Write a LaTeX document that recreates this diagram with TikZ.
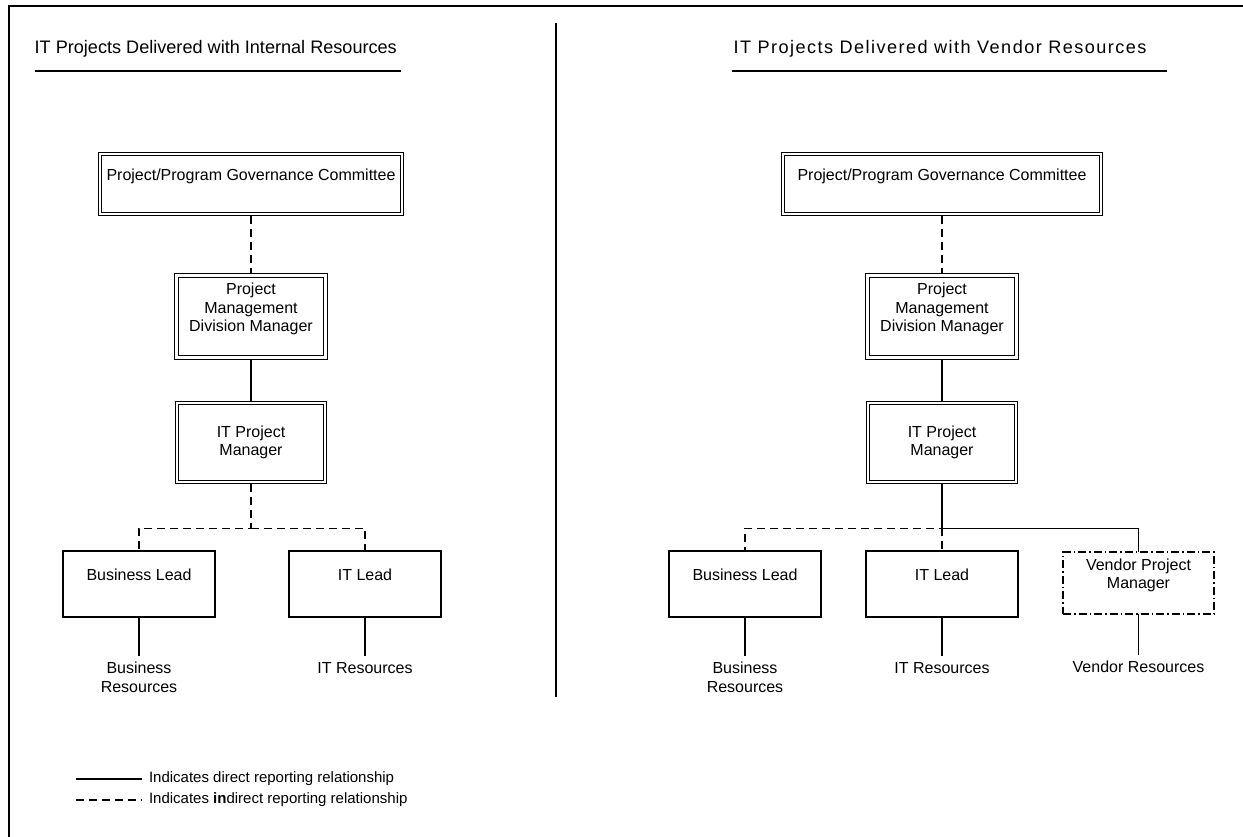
\documentclass[tikz,border=0pt]{standalone}
\usepackage{fontspec}
\setmainfont{Liberation Sans}
\newfontfamily\widetitle[LetterSpace=8]{Liberation Sans}
\usetikzlibrary{positioning}

\begin{document}
\begin{tikzpicture}[
    x=1pt, y=-1pt,
    every node/.style={font=\fontsize{16}{18.5}\selectfont},
    dbox/.style={draw, double, line width=1.2pt, double distance=2.4pt, outer sep=2.4pt, inner sep=0pt, align=center},
    box/.style={draw, line width=1.2pt, inner sep=0pt, outer sep=0pt, align=center, minimum width=152pt, minimum height=66pt},
    vbox/.style={box, dash pattern=on 8pt off 3pt on 1.5pt off 3pt, minimum width=151pt, minimum height=62pt},
    res/.style={align=center, inner sep=0pt, outer sep=6pt},
    direct/.style={line width=1.2pt},
    indirect/.style={line width=1.2pt, dash pattern=on 8pt off 5pt},
    title/.style={font=\fontsize{18.1}{20}\selectfont, anchor=base west, inner sep=0pt},
    keytext/.style={font=\fontsize{15}{17}\selectfont, anchor=west, inner sep=0pt, outer sep=7pt}
  ]
    \useasboundingbox (0,0) rectangle (1243,837);
    \draw[line width=2.5pt] (9,837) |- (1243,6);
    \draw[direct] (556,23) -- (556,697);

    \node[title] (titleL) at (34.5,53.5) {IT Projects Delivered with Internal Resources};
    \node[title] (titleR) at (733.5,53.5) {\widetitle IT Projects Delivered with Vendor Resources};
    \draw[direct] (35,71) -- (401,71);
    \draw[direct] (732,71) -- (1167,71);

    \node[dbox, minimum width=302pt, minimum height=60pt] (govL) at (251,184) {Project/Program Governance Committee\\\mbox{}};
    \node[dbox, minimum width=149pt, minimum height=82pt, below=56.7pt of govL] (pmdL) {Project\\Management\\Division Manager\\\mbox{}};
    \node[dbox, minimum width=148pt, minimum height=79pt, below=40.7pt of pmdL] (itpmL) {IT Project\\Manager};
    \coordinate[below=44pt of itpmL] (forkL);
    \node[box, below=66.6pt of itpmL, xshift=-112pt] (busL) {Business Lead\\\mbox{}};
    \node[box, below=66.6pt of itpmL, xshift=114pt] (itL) {IT Lead\\\mbox{}};
    \node[res, below=39pt of busL] (busResL) {Business\\Resources};
    \node[res, below=39pt of itL] (itResL) {IT Resources};

    \draw[indirect] (govL) -- (pmdL);
    \draw[direct] (pmdL) -- (itpmL);
    \draw[indirect] (itpmL) -- (forkL) -| (busL.north);
    \draw[indirect] (forkL) -| (itL.north);
    \draw[direct] (busL) -- (busResL);
    \draw[direct] (itL) -- (itResL);

    \node[dbox, minimum width=318pt, minimum height=60pt] (govR) at (942,184) {Project/Program Governance Committee\\\mbox{}};
    \node[dbox, minimum width=149pt, minimum height=82pt, below=56.7pt of govR] (pmdR) {Project\\Management\\Division Manager\\\mbox{}};
    \node[dbox, minimum width=148pt, minimum height=79pt, below=40.7pt of pmdR] (itpmR) {IT Project\\Manager};
    \coordinate[below=44pt of itpmR] (forkR);
    \node[box, below=66.6pt of itpmR, xshift=-197pt] (busR) {Business Lead\\\mbox{}};
    \node[box, below=66.6pt of itpmR] (itR) {IT Lead\\\mbox{}};
    \node[vbox, below=67.6pt of itpmR, xshift=196.5pt] (vendR) {Vendor Project\\Manager\\\mbox{}};
    \node[res, below=39pt of busR] (busResR) {Business\\Resources};
    \node[res, below=39pt of itR] (itResR) {IT Resources};
    \node[res, below=41pt of vendR] (vendResR) {Vendor Resources};

    \draw[indirect] (govR) -- (pmdR);
    \draw[direct] (pmdR) -- (itpmR);
    \draw[direct] (itpmR) -- (forkR) -| (vendR.north);
    \draw[indirect] (itpmR) -- (forkR) -| (busR.north);
    \draw[indirect] (forkR) -- (itR);
    \draw[direct] (busR) -- (busResR);
    \draw[direct] (itR) -- (itResR);
    \draw[direct] (vendR) -- (vendResR);

    \node[keytext] (keyDirect) at (142,779) {Indicates direct reporting relationship};
    \node[keytext] (keyIndirect) at (142,800) {Indicates \textbf{in}direct reporting relationship};
    \coordinate[left=66pt of keyDirect.west] (keyDirectEnd);
    \coordinate[left=66pt of keyIndirect.west] (keyIndirectEnd);
    \draw[direct] (keyDirectEnd) -- (keyDirect.west);
    \draw[indirect] (keyIndirectEnd) -- (keyIndirect.west);
  \end{tikzpicture}
\end{document}
